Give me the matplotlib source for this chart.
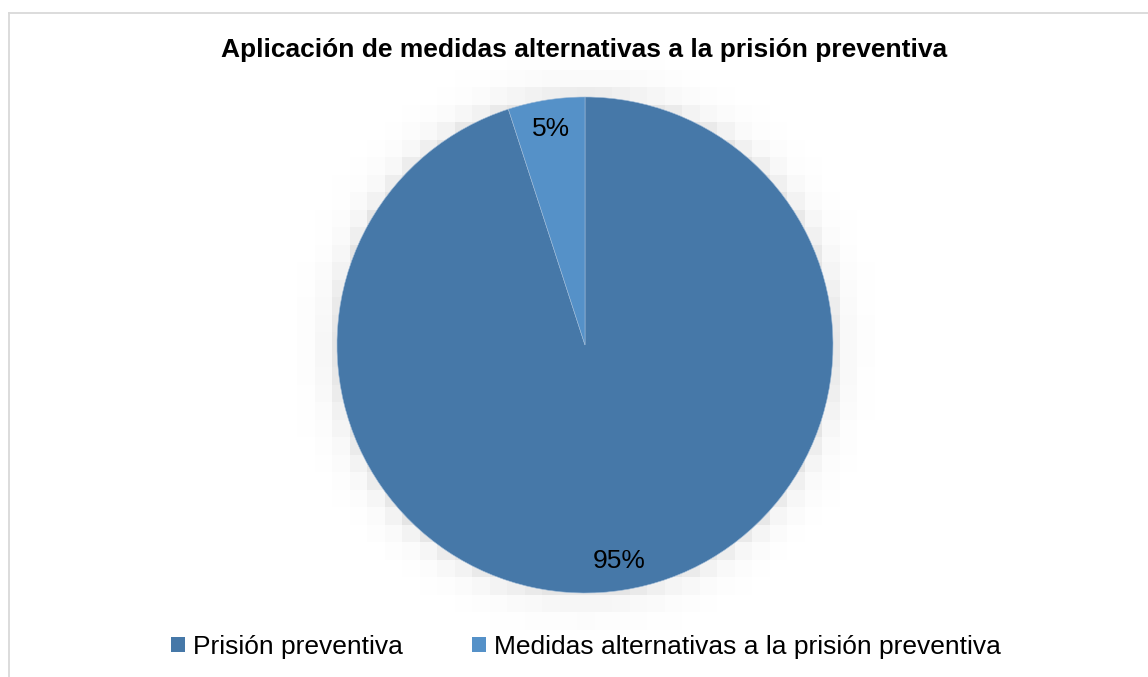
import numpy as np
import matplotlib
matplotlib.use("Agg")
import matplotlib.pyplot as plt
from matplotlib.patches import Patch
from matplotlib.lines import Line2D

plt.rcParams['font.family'] = ['Liberation Sans', 'DejaVu Sans']

# --- Data ---
categories = ["Prisión preventiva", "Medidas alternativas a la prisión preventiva"]
shares = [95, 5]
colors = ["#4678A8", "#5591C8"]
title = "Aplicación de medidas alternativas a la prisión preventiva"

W, H = 1148, 677
fig = plt.figure(figsize=(W / 100, H / 100), dpi=100)
fig.patch.set_facecolor("white")

# pie placement in pixels
cx, cy, R = 585, 345, 248

# soft blocky shadow behind the pie
bg = fig.add_axes([0, 0, 1, 1])
bg.set_axis_off()
block = 17.5
nx, ny = int(W / block) + 1, int(H / block) + 1
xs = (np.arange(nx) + 0.5) * block
ys = (np.arange(ny) + 0.5) * block
gx, gy = np.meshgrid(xs, ys)
d = np.hypot(gx - cx, gy - cy) - R
shade = 255 - 26 * np.exp(-np.clip(d + 4, 0, None) / 15)
shade = np.where(d < -block, 255, shade) / 255.0
bg.imshow(shade, cmap="gray", vmin=0, vmax=1, interpolation="nearest",
          extent=[0, nx * block, ny * block, 0])
bg.set_xlim(0, W)
bg.set_ylim(H, 0)

# frame around the chart area
border = "#d9d9d9"
fig.add_artist(Line2D([8.5 / W, 1], [1 - 12.5 / H] * 2, color=border, lw=1.3))
fig.add_artist(Line2D([8.5 / W] * 2, [0, 1 - 12.5 / H], color=border, lw=1.3))

ax = fig.add_axes([(cx - R) / W, (H - cy - R) / H, 2 * R / W, 2 * R / H])
wedges, texts, autotexts = ax.pie(
    shares, colors=colors, startangle=90, counterclock=False,
    autopct="%1.0f%%", pctdistance=0.88,
    wedgeprops=dict(edgecolor="#9fbbd8", linewidth=0.4),
    textprops=dict(fontsize=19, color="black"))
ax.set_xlim(-1, 1)
ax.set_ylim(-1, 1)

fig.text(584 / W, 1 - 50 / H, title, ha="center", va="center",
         fontsize=19, fontweight="bold")

handles = [Patch(facecolor=c, edgecolor="none") for c in colors]
fig.legend(handles, categories, loc="center",
           bbox_to_anchor=(586 / W, 1 - 647 / H), ncol=2, frameon=False,
           fontsize=19, handlelength=0.53, handleheight=0.53,
           handletextpad=0.3, columnspacing=2.6)

fig.savefig("out.png", dpi=100)
